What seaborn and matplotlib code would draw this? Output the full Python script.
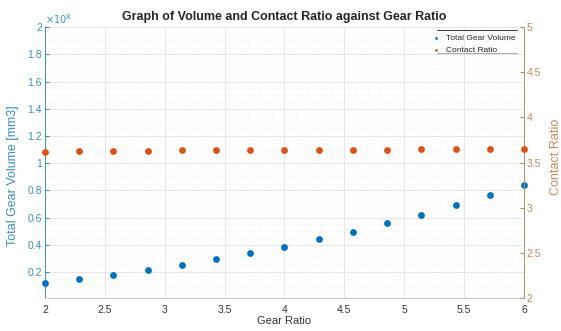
import numpy as np
import pandas as pd
import matplotlib
matplotlib.use('Agg')
import matplotlib.pyplot as plt
from matplotlib.ticker import MultipleLocator
from matplotlib.lines import Line2D
import seaborn as sns

# Values
gear_ratio = [2.0, 2.2857, 2.5714, 2.8571, 3.1429, 3.4286, 3.7143, 4.0,
              4.2857, 4.5714, 4.8571, 5.1429, 5.4286, 5.7143, 6.0]
gear_volume = [0.120, 0.147, 0.178, 0.212, 0.251, 0.295, 0.341, 0.387,
               0.440, 0.498, 0.559, 0.622, 0.690, 0.763, 0.838]  # x 1e8 mm3
contact_ratio = [3.622, 3.626, 3.629, 3.633, 3.636, 3.636, 3.640, 3.640,
                 3.642, 3.642, 3.642, 3.648, 3.648, 3.648, 3.648]

df = pd.DataFrame({'Gear Ratio': gear_ratio,
                   'Volume': np.array(gear_volume) * 1e8,
                   'Contact Ratio': contact_ratio})

sns.set_style('white')
plt.rcParams['font.family'] = ['Liberation Sans', 'DejaVu Sans']

blue = '#0072BD'
orange = '#D95319'
left_col = '#3C8DBE'
right_col = '#C8875A'

fig = plt.figure(figsize=(5.61, 3.31), dpi=100)
ax = fig.add_axes([0.080, 0.100, 0.854, 0.818])
ax2 = ax.twinx()

sns.scatterplot(data=df, x='Gear Ratio', y='Volume', ax=ax, color=blue,
                s=24, edgecolor=blue, linewidth=0, label='Total Gear Volume',
                legend=False, zorder=3)
sns.scatterplot(data=df, x='Gear Ratio', y='Contact Ratio', ax=ax2, color=orange,
                s=24, edgecolor=orange, linewidth=0, label='Contact Ratio',
                legend=False, zorder=3)
for a in (ax, ax2):
    for c in a.collections:
        c.set_clip_on(False)

ax.set_xlim(2, 6)
ax.set_ylim(0.01e8, 2e8)
ax.set_yticks(np.arange(0.2, 2.01, 0.2) * 1e8)
ax.yaxis.set_major_formatter(plt.FuncFormatter(lambda v, p: f'{v/1e8:g}'))
ax.xaxis.set_major_locator(MultipleLocator(0.5))
ax.xaxis.set_major_formatter(plt.FuncFormatter(lambda v, p: f'{v:g}'))
ax.xaxis.set_minor_locator(MultipleLocator(0.1))
ax.yaxis.set_minor_locator(MultipleLocator(0.05e8))
ax2.set_ylim(2, 5)
ax2.set_yticks([2, 2.5, 3, 3.5, 4, 4.5, 5])
ax2.set_yticklabels(['2', '2.5', '3', '3.5', '4', '4.5', '5'])

ax.grid(True, which='major', color='#E6E6E6', linewidth=0.7)
ax.grid(True, which='minor', color='#EEEEEE', linewidth=0.5, linestyle=':')
ax.set_axisbelow(True)

for a in (ax, ax2):
    a.spines['top'].set_visible(False)
ax.spines['right'].set_visible(False)
ax2.spines['left'].set_visible(False)
ax2.spines['bottom'].set_visible(False)
ax.spines['left'].set_color(left_col)
ax.spines['bottom'].set_color('#C8C8C8')
ax2.spines['right'].set_color(right_col)
for s in ('left', 'bottom'):
    ax.spines[s].set_linewidth(0.7)
ax2.spines['right'].set_linewidth(0.7)

ax.tick_params(axis='y', colors=left_col, labelsize=7.5, direction='in', length=3, pad=2)
ax.tick_params(axis='x', colors='#333333', labelsize=7.5, direction='in', length=3, pad=5)
ax.tick_params(which='minor', length=0)
ax2.tick_params(axis='y', colors=right_col, labelsize=7.5, direction='in', length=3, pad=2)

ax.set_xlabel('Gear Ratio', fontsize=8, color='#333333', labelpad=1)
ax.set_ylabel('Total Gear Volume [mm3]', fontsize=9, color=left_col)
ax.yaxis.set_label_coords(-0.055, 0.45)
ax2.set_ylabel('Contact Ratio', fontsize=9, color=right_col)
ax2.yaxis.set_label_coords(1.055, 0.52)
ax.set_title('Graph of Volume and Contact Ratio against Gear Ratio',
             fontsize=9, fontweight='bold', pad=5)

ax.text(0.0, 1.003, r'$\times10^8$', transform=ax.transAxes, fontsize=7,
        color=left_col, ha='left', va='bottom')

h1, l1 = ax.get_legend_handles_labels()
h2, l2 = ax2.get_legend_handles_labels()
leg = ax2.legend(h1 + h2, l1 + l2, loc='upper right', fontsize=6,
                 frameon=False, handletextpad=0.2, borderpad=0.4,
                 labelspacing=0.45, markerscale=0.4,
                 bbox_to_anchor=(0.998, 1.0))
# top and bottom rules of the legend box
ax2.add_line(Line2D([0.818, 0.985], [0.989, 0.989], transform=ax2.transAxes,
                    color='#333333', linewidth=0.7, clip_on=False))
ax2.add_line(Line2D([0.818, 0.985], [0.904, 0.904], transform=ax2.transAxes,
                    color='#AAAAAA', linewidth=0.7, clip_on=False))

fig.savefig('out.png', dpi=100)
